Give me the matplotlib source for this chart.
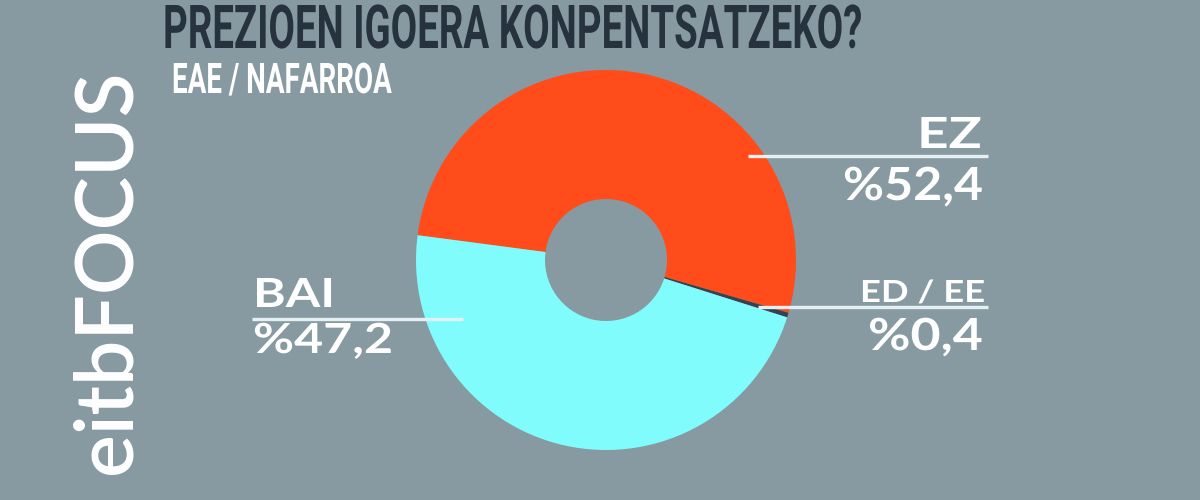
import matplotlib
matplotlib.use("Agg")
import matplotlib.pyplot as plt
from matplotlib.patheffects import AbstractPathEffect
from matplotlib.transforms import Affine2D
from matplotlib.textpath import TextPath
from matplotlib.font_manager import FontProperties

# data
labels = ["EZ", "ED / EE", "BAI"]
values = [52.4, 0.4, 47.2]
value_texts = ["%52,4", "%0,4", "%47,2"]
colors = ["#ff4c1a", "#34424f", "#80fcfc"]

title = "PREZIOEN IGOERA KONPENTSATZEKO?"
subtitle = "EAE / NAFARROA"
logo = "eitbFOCUS"

bg = "#889aa1"
navy = "#26333e"
white = "#ffffff"
rule = "#e4f0f3"


class Stretch(AbstractPathEffect):
    # squeeze/stretch the glyphs around the text anchor
    def __init__(self, sx=1.0, sy=1.0):
        super().__init__()
        self.sx = sx
        self.sy = sy

    def draw_path(self, renderer, gc, tpath, affine, rgbFace=None):
        m = affine.get_matrix()
        tx, ty = m[0, 2], m[1, 2]
        aff = affine + Affine2D().translate(-tx, -ty).scale(self.sx, self.sy).translate(tx, ty)
        renderer.draw_path(gc, tpath, aff, rgbFace)


fig = plt.figure(figsize=(12, 5), dpi=100, facecolor=bg)
ax = fig.add_axes([0, 0, 1, 1])
ax.set_facecolor(bg)


def Y(y):
    # pixel row (from top) -> data y
    return 500 - y


ax.pie(values, colors=colors, startangle=172.5, counterclock=False,
       center=(606, Y(260)), radius=190, frame=True,
       wedgeprops=dict(width=129, linewidth=0))
ax.set_xlim(0, 1200)
ax.set_ylim(0, 500)
ax.set_aspect("auto")
ax.axis("off")

fitted = []


def put(s, x0, x1, base, cap, family, weight, color, stretch="normal"):
    prop = FontProperties(family=family, weight=weight, stretch=stretch)
    capr = TextPath((0, 0), "H", size=100, prop=prop).get_extents().height / 100
    size = cap / capr * 72 / 100
    t = ax.text(x0, Y(base), s, fontsize=size, family=family, fontweight=weight,
                fontstretch=stretch, color=color, ha="left", va="baseline")
    fitted.append((t, x1 - x0, size))
    return t


# titles
put(title, 163, 863, 48, 43, "Roboto", "bold", navy, "condensed")
put(subtitle, 172, 392, 93, 30, "Roboto", "bold", white, "condensed")

# logo
ax.text(130, Y(474), logo, fontsize=58, color=white, family="Lato",
        fontweight="semibold", rotation=90, ha="left", va="baseline",
        rotation_mode="anchor")

# EZ
put(labels[0], 917, 982, 148, 31, "Lato", "bold", white)
ax.plot([748, 988], [Y(156), Y(156)], color=rule, lw=2.4, solid_capstyle="butt")
put(value_texts[0], 843, 983, 200, 33, "Lato", "bold", white)

# ED / EE
put(labels[1], 860, 985, 302, 22, "Lato", "bold", white)
ax.plot([758, 988], [Y(307), Y(307)], color=rule, lw=2.4, solid_capstyle="butt")
put(value_texts[1], 868, 983, 350, 32, "Lato", "bold", white)

# BAI
put(labels[2], 253, 335, 307, 29, "Lato", "bold", white)
ax.plot([252, 463], [Y(319), Y(319)], color=rule, lw=2.4, solid_capstyle="butt")
put(value_texts[2], 253, 393, 353, 30, "Lato", "bold", white)

# resize each text so its box has the wanted width, then stretch the glyphs
# back to the wanted cap height
fig.canvas.draw()
for t, w, size in fitted:
    bb = t.get_window_extent()
    new_size = size * w / bb.width
    t.set_fontsize(new_size)
    t.set_path_effects([Stretch(1.0, size / new_size)])

fig.savefig("out.png", dpi=100, facecolor=bg)
